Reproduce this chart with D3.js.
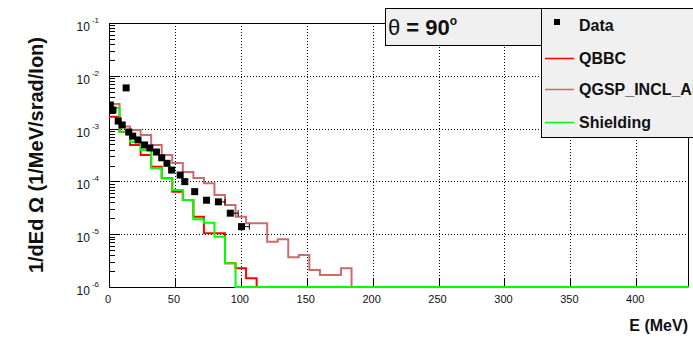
<!DOCTYPE html>
<html>
<head>
<meta charset="utf-8">
<script src="https://cdn.jsdelivr.net/npm/d3@7"></script>
<style>
  body { margin: 0; background: #fff; }
  text { font-family: "Liberation Sans", Arial, Helvetica, sans-serif; }
</style>
</head>
<body>
<div class="container"></div>
<script>
const WIDTH = 693;
const HEIGHT = 340;
const LEFT = 109, RIGHT = 689, TOP = 23, BOTTOM = 287;

// bins are 8 MeV wide, starting at 0
const BIN_WIDTH = 8;

// Data (E in MeV, value in 1/MeV/srad/Ion)
var dataE = [1, 3, 7, 10, 13, 15, 18, 22, 27, 31, 36, 40, 44, 47.5, 54, 57.5, 65, 74, 83, 92, 100.5];
var dataV = [2.8e-3, 2.25e-3, 1.39e-3, 1.17e-3, 5.9e-3, 8.6e-4, 7.2e-4, 6.1e-4, 4.9e-4, 4.3e-4,
             3.6e-4, 2.8e-4, 2.2e-4, 1.64e-4, 1.32e-4, 9.9e-5, 6.4e-5, 4.4e-5, 4.1e-5, 2.5e-5, 1.39e-5];
var dataErrE = [0, 0, 0, 0, 0, 0, 0, 0, 0, 0, 0, 0, 0, 0, 0, 0, 0, 0, 5, 6, 6];

// simulated histograms, one value per 8 MeV bin
var qbbc = [1.68e-3, 8.7e-4, 4.89e-4, 3.16e-4, 1.9e-4, 1.15e-4, 6.38e-5, 4.45e-5, 2.14e-5, 1.04e-5,
            1.04e-5, 2.81e-6, 2.26e-6, 1.46e-6];
var qgspIncl = [2.92e-3, 1.09e-3, 9.4e-4, 7.56e-4, 4.89e-4, 3.16e-4, 2.23e-4, 1.51e-4, 1.16e-4, 9.2e-5,
                5.52e-5, 3.57e-5, 2.14e-5, 1.61e-5, 1.61e-5, 7.2e-6, 8.0e-6, 3.65e-6, 4.04e-6, 2.1e-6,
                1.69e-6, 1.69e-6, 2.26e-6];
var shielding = [2.45e-3, 8.7e-4, 5.65e-4, 3.93e-4, 1.77e-4, 1.15e-4, 6.9e-5, 4.45e-5, 1.91e-5, 1.65e-5,
                 8.97e-6, 2.81e-6];

var xTicks = [0, 50, 100, 150, 200, 250, 300, 350, 400];
var yDecades = [-1, -2, -3, -4, -5, -6];

var seriesNames = ["QBBC", "QGSP_INCL_ABLA", "Shielding"];
var seriesColors = ["#ff0000", "#cc6b6b", "#00ff00"];

var xScale = d3.scaleLinear().domain([0, 440]).range([LEFT, RIGHT]);
var yScale = d3.scaleLog().domain([1e-6, 1e-1]).range([BOTTOM, TOP]);

var svg = d3.select('.container').append('svg')
    .attr('width', WIDTH)
    .attr('height', HEIGHT);

svg.append('defs').append('clipPath').attr('id', 'plot')
    .append('rect')
    .attr('x', LEFT).attr('y', TOP - 1)
    .attr('width', RIGHT - LEFT).attr('height', BOTTOM - TOP + 2);

// grid
var grid = svg.append('g')
    .attr('stroke', '#000')
    .attr('stroke-width', 1)
    .attr('stroke-dasharray', '1,2');
grid.selectAll('line.gx').data(xTicks.slice(1)).enter().append('line')
    .attr('x1', function (d) { return Math.round(xScale(d)) + 0.5; })
    .attr('x2', function (d) { return Math.round(xScale(d)) + 0.5; })
    .attr('y1', TOP).attr('y2', BOTTOM);
grid.selectAll('line.gy').data(yDecades.slice(1, -1)).enter().append('line')
    .attr('x1', LEFT).attr('x2', RIGHT)
    .attr('y1', function (d) { return Math.round(yScale(Math.pow(10, d))) + 0.5; })
    .attr('y2', function (d) { return Math.round(yScale(Math.pow(10, d))) + 0.5; });

// frame
svg.append('rect')
    .attr('x', LEFT + 0.5).attr('y', TOP + 0.5)
    .attr('width', RIGHT - LEFT - 1).attr('height', BOTTOM - TOP)
    .attr('fill', 'none').attr('stroke', '#000');

// y ticks
var yMinor = [];
yDecades.slice(1).forEach(function (d) {
    for (var m = 2; m <= 9; m++) yMinor.push(m * Math.pow(10, d));
});
var ticks = svg.append('g').attr('stroke', '#000').attr('stroke-width', 1);
ticks.selectAll('line.ym').data(yMinor).enter().append('line')
    .attr('x1', LEFT).attr('x2', LEFT + 6)
    .attr('y1', function (d) { return Math.round(yScale(d)) + 0.5; })
    .attr('y2', function (d) { return Math.round(yScale(d)) + 0.5; });
ticks.selectAll('line.yM').data(yDecades).enter().append('line')
    .attr('x1', LEFT).attr('x2', LEFT + 11)
    .attr('y1', function (d) { return Math.round(yScale(Math.pow(10, d))) + 0.5; })
    .attr('y2', function (d) { return Math.round(yScale(Math.pow(10, d))) + 0.5; });
ticks.selectAll('line.xM').data(xTicks).enter().append('line')
    .attr('x1', function (d) { return Math.round(xScale(d)) + 0.5; })
    .attr('x2', function (d) { return Math.round(xScale(d)) + 0.5; })
    .attr('y1', BOTTOM).attr('y2', BOTTOM - 9);

// y tick labels 10^n
var yLab = svg.append('g').selectAll('text').data(yDecades).enter().append('text')
    .attr('x', 99)
    .attr('y', function (d) { return yScale(Math.pow(10, d)) + 8; })
    .attr('text-anchor', 'end')
    .attr('font-size', 12)
    .attr('fill', '#111');
yLab.append('tspan').text('10');
yLab.append('tspan')
    .attr('dx', 2).attr('dy', -8)
    .attr('font-size', 8)
    .text(function (d) { return d; });

// x tick labels
svg.append('g').selectAll('text').data(xTicks).enter().append('text')
    .attr('x', function (d) { return xScale(d) - 1; })
    .attr('y', 303)
    .attr('text-anchor', 'middle')
    .attr('font-size', 11)
    .attr('fill', '#111')
    .text(function (d) { return d; });

// axis titles
svg.append('text')
    .attr('x', 688).attr('y', 331)
    .attr('text-anchor', 'end')
    .attr('font-size', 16).attr('font-weight', 'bold')
    .attr('fill', '#111')
    .text('E (MeV)');
svg.append('text')
    .attr('transform', 'translate(43,37) rotate(-90)')
    .attr('text-anchor', 'end')
    .attr('font-size', 20).attr('font-weight', 'bold')
    .attr('fill', '#111')
    .text('1/dEd \u03A9 (1/MeV/srad/Ion)');

// histograms
var histLine = d3.line()
    .x(function (d) { return xScale(d[0]); })
    .y(function (d) { return yScale(Math.max(d[1], 1e-6)); })
    .curve(d3.curveStepAfter);

var histPoints = function (values) {
    var pts = [];
    var nBins = 440 / BIN_WIDTH;
    for (var i = 0; i < nBins; i++) {
        pts.push([i * BIN_WIDTH, i < values.length ? values[i] : 0]);
    }
    pts.push([nBins * BIN_WIDTH, 0]);
    return pts;
};

var hists = [qbbc, qgspIncl, shielding];
var drawOrder = [1, 0, 2];
var plot = svg.append('g').attr('clip-path', 'url(#plot)');
drawOrder.forEach(function (i) {
    plot.append('path')
        .attr('d', histLine(histPoints(hists[i])))
        .attr('fill', 'none')
        .attr('stroke', seriesColors[i])
        .attr('stroke-width', 2);
});

// data points
var pts = plot.append('g');
pts.selectAll('path.err').data(dataE.map(function (e, i) { return i; })
    .filter(function (i) { return dataErrE[i] > 0; }))
    .enter().append('path')
    .attr('stroke', '#000').attr('fill', 'none').attr('stroke-width', 1)
    .attr('d', function (i) {
        var x0 = xScale(dataE[i]), x1 = xScale(dataE[i] + dataErrE[i]), yy = yScale(dataV[i]);
        return 'M' + x0 + ',' + yy + 'H' + x1 + 'M' + x1 + ',' + (yy - 3) + 'V' + (yy + 3);
    });
pts.selectAll('rect').data(dataE).enter().append('rect')
    .attr('x', function (d) { return xScale(d) - 3.5; })
    .attr('y', function (d, i) { return yScale(dataV[i]) - 3.5; })
    .attr('width', 7).attr('height', 7)
    .attr('fill', '#000');

// title box
svg.append('rect')
    .attr('x', 385.5).attr('y', 8.5).attr('width', 156).attr('height', 37)
    .attr('fill', '#f0f0f0').attr('stroke', '#000');
var title = svg.append('text')
    .attr('x', 388).attr('y', 35)
    .attr('font-size', 22).attr('fill', '#111');
title.append('tspan').text('\u03B8');
title.append('tspan').attr('font-weight', 'bold').text(' = 90');
title.append('tspan').attr('font-size', 12).attr('font-weight', 'bold').attr('dy', -10).text('o');

// legend
var legend = svg.append('g');
legend.append('rect')
    .attr('x', 541.5).attr('y', 8.5).attr('width', 200).attr('height', 129)
    .attr('fill', '#f0f0f0').attr('stroke', '#000');
var legendY = [26, 58.5, 89.5, 122.5];
legend.append('rect')
    .attr('x', 554).attr('y', 19).attr('width', 6).attr('height', 6)
    .attr('fill', '#000');
legend.selectAll('line').data(seriesNames).enter().append('line')
    .attr('x1', 545).attr('x2', 574)
    .attr('y1', function (d, i) { return legendY[i + 1]; })
    .attr('y2', function (d, i) { return legendY[i + 1]; })
    .attr('stroke', function (d, i) { return seriesColors[i]; })
    .attr('stroke-width', 1.5);
legend.selectAll('text').data(['Data'].concat(seriesNames)).enter().append('text')
    .attr('x', 579)
    .attr('y', function (d, i) { return legendY[i] + 5; })
    .attr('font-size', 16).attr('font-weight', 'bold')
    .attr('fill', '#111')
    .text(function (d) { return d; });
</script>
</body>
</html>
